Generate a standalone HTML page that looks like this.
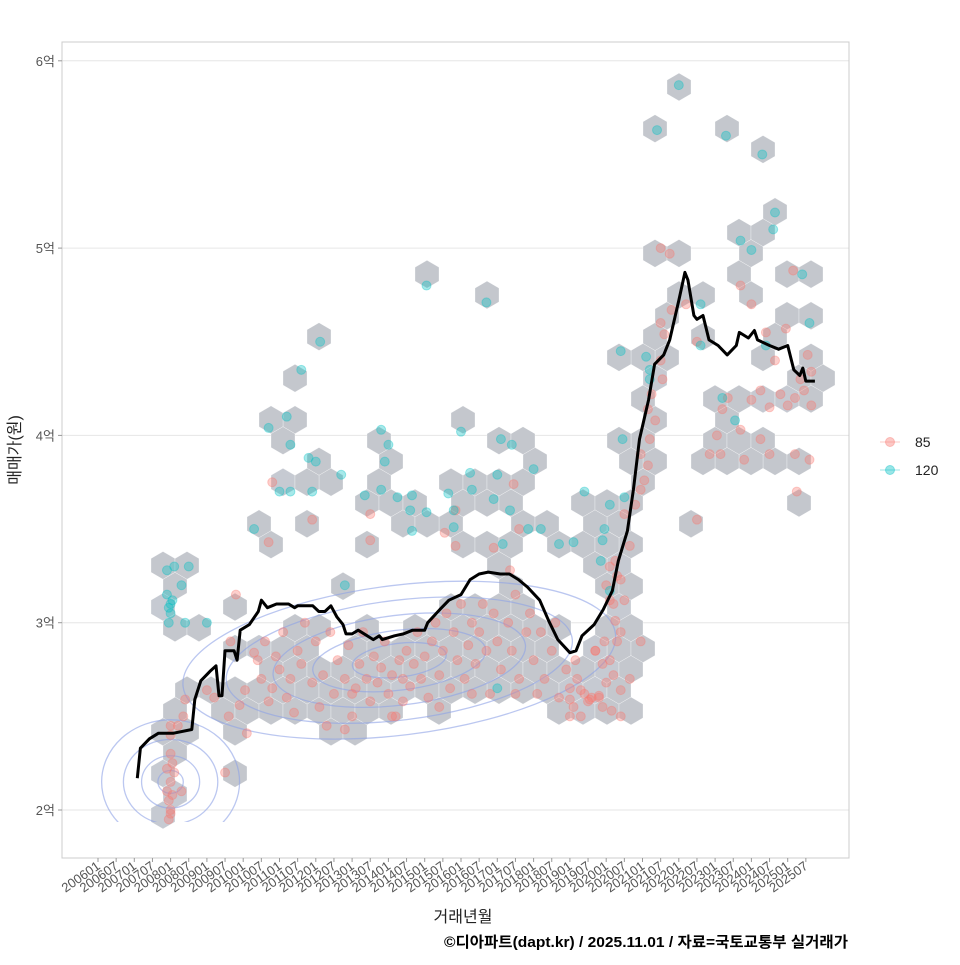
<!DOCTYPE html>
<html><head><meta charset="utf-8">
<style>
body{margin:0;background:#fff;}
svg text{font-family:"Liberation Sans","Noto Sans CJK KR",sans-serif;}
</style></head>
<body>
<svg id="chart" width="960" height="960" viewBox="0 0 960 960" xmlns="http://www.w3.org/2000/svg">
<rect x="0" y="0" width="960" height="960" fill="#fff"/>
<g id="grid"></g>
<g id="hexes"></g>
<g id="contours"></g>
<g id="pts"></g>
<g id="line"></g>
<rect x="62" y="42" width="787" height="816" fill="none" stroke="#cccccc" stroke-width="1"/>
<g id="yaxis"></g>
<g id="xaxis"></g>
<text x="463" y="922" font-size="16" text-anchor="middle" fill="#222">거래년월</text>
<text transform="translate(20,450) rotate(-90)" font-size="16" text-anchor="middle" fill="#222">매매가(원)</text>
<text x="848" y="947" font-size="15" font-weight="bold" text-anchor="end" fill="#000" textLength="404" lengthAdjust="spacingAndGlyphs">©디아파트(dapt.kr) / 2025.11.01 / 자료=국토교통부 실거래가</text>
<g>
<g>
<line x1="880" y1="442" x2="900" y2="442" stroke="#F8766D" stroke-opacity="0.4"/>
<circle cx="890" cy="442" r="4.5" fill="#F8766D" fill-opacity="0.4" stroke="#F8766D" stroke-opacity="0.4"/>
<text x="915" y="447" font-size="14" fill="#222">85</text></g>
<g>
<line x1="880" y1="470" x2="900" y2="470" stroke="#00BFC4" stroke-opacity="0.4"/>
<circle cx="890" cy="470" r="4.5" fill="#00BFC4" fill-opacity="0.4" stroke="#00BFC4" stroke-opacity="0.4"/>
<text x="915" y="475" font-size="14" fill="#222">120</text></g>
</g>
</svg>
<script>
const yTicks = [2,3,4,5,6];
const xTickYears = [2006,2007,2008,2009,2010,2011,2012,2013,2014,2015,2016,2017,2018,2019,2020,2021,2022,2023,2024,2025];
const lineDates = ["2007-02","2007-03","2007-06","2007-09","2008-02","2008-08","2008-09","2008-11","2009-02","2009-04","2009-05","2009-06","2009-07","2009-10","2009-11","2009-12","2010-03","2010-06","2010-07","2010-09","2010-12","2011-04","2011-06","2011-07","2011-12","2012-02","2012-04","2012-06","2012-08","2012-10","2012-11","2013-01","2013-03","2013-08","2013-10","2013-11","2014-03","2014-06","2014-09","2015-01","2015-02","2015-06","2015-09","2016-01","2016-04","2016-07","2016-10","2017-02","2017-05","2017-08","2017-11","2018-03","2018-06","2018-09","2019-01","2019-03","2019-05","2019-09","2019-12","2020-03","2020-05","2020-08","2020-10","2020-12","2021-03","2021-05","2021-08","2021-10","2022-01","2022-03","2022-04","2022-06","2022-07","2022-09","2022-11","2023-02","2023-05","2023-08","2023-09","2023-12","2024-02","2024-03","2024-07","2024-10","2025-01","2025-03","2025-05","2025-06","2025-07","2025-10"];
const lineValues = [2.17,2.33,2.38,2.41,2.41,2.43,2.59,2.69,2.74,2.77,2.61,2.61,2.85,2.85,2.80,2.96,2.99,3.06,3.12,3.08,3.10,3.10,3.08,3.09,3.09,3.06,3.06,3.09,3.03,2.99,2.94,2.94,2.96,2.91,2.93,2.91,2.93,2.94,2.96,2.96,3.00,3.07,3.12,3.15,3.23,3.26,3.27,3.26,3.26,3.23,3.19,3.12,3.01,2.91,2.84,2.85,2.93,2.99,3.07,3.17,3.33,3.49,3.71,3.98,4.19,4.38,4.43,4.51,4.72,4.87,4.83,4.64,4.62,4.64,4.51,4.48,4.43,4.48,4.55,4.52,4.56,4.51,4.48,4.46,4.48,4.35,4.32,4.36,4.29,4.29];
const pts85 = "2007.9:2.1 2007.95:2.05 2008.0:2.0 2008.0:2.15 2008.05:2.25 2008.0:2.3 2007.95:1.95 2008.1:2.2 2008.3:2.1 2008.0:2.4 2008.2:2.45 2007.9:2.22 2008.05:2.08 2008.0:1.98 2009.5:2.2 2009.0:2.64 2008.4:2.59 2009.2:2.6 2009.6:2.5 2009.9:2.56 2010.1:2.41 2009.65:2.9 2010.3:2.84 2010.05:2.64 2008.35:2.5 2008.0:2.45 2010.4:2.8 2010.5:2.7 2010.6:2.9 2010.8:2.65 2010.9:2.82 2011.0:2.75 2011.1:2.95 2011.2:2.6 2011.3:2.7 2011.5:2.85 2011.6:2.78 2011.7:3.0 2011.9:2.68 2012.0:2.9 2012.1:2.55 2012.2:2.72 2012.4:2.95 2012.5:2.62 2012.6:2.8 2012.8:2.7 2012.9:2.88 2013.0:2.5 2013.1:2.65 2013.2:2.78 2013.3:2.95 2013.4:2.7 2013.5:2.58 2013.6:2.82 2013.7:2.68 2013.8:2.76 2013.9:2.9 2014.0:2.62 2014.1:2.72 2014.2:2.5 2014.3:2.8 2014.4:2.7 2014.5:2.85 2014.6:2.66 2014.7:2.78 2014.8:2.95 2014.9:2.7 2015.0:2.82 2015.1:2.6 2015.2:2.9 2015.3:3.0 2015.4:2.72 2015.5:2.85 2015.6:3.05 2015.7:2.65 2015.8:2.95 2015.9:2.8 2016.0:3.1 2016.1:2.7 2016.2:2.88 2016.3:3.0 2016.4:2.78 2016.5:2.95 2016.6:3.1 2016.7:2.85 2016.8:2.62 2016.9:3.05 2017.0:2.9 2017.1:2.75 2017.3:3.0 2017.4:2.85 2017.5:3.15 2017.6:2.7 2017.8:2.95 2017.9:3.05 2018.0:2.8 2018.2:2.95 2018.3:2.7 2018.5:2.85 2018.6:3.0 2018.7:2.6 2018.9:2.75 2019.0:2.65 2019.1:2.55 2019.2:2.7 2019.3:2.5 2019.4:2.62 2019.5:2.58 2019.6:2.6 2019.8:2.6 2019.9:2.55 2020.0:2.68 2020.1:2.8 2020.2:2.72 2020.3:2.9 2020.4:2.95 2019.7:2.85 2019.9:2.78 2020.2:3.1 2020.3:3.25 2020.1:3.3 2020.0:3.2 2010.7:2.58 2012.3:2.45 2012.8:2.43 2014.1:2.5 2015.4:2.55 2016.3:2.62 2017.5:2.62 2013.0:2.62 2011.4:2.52 2014.4:2.58 2018.1:2.62 2019.0:2.5 2010.8:3.75 2011.9:3.55 2013.5:3.44 2013.5:3.58 2015.55:3.48 2015.85:3.6 2015.85:3.41 2016.9:3.4 2017.45:3.74 2017.6:3.5 2017.35:3.28 2010.7:3.43 2009.8:3.15 2019.95:2.9 2020.25:3.01 2020.1:3.12 2020.4:3.23 2020.5:3.12 2020.25:3.33 2020.65:3.41 2020.5:3.58 2020.8:3.63 2020.95:3.71 2021.05:3.76 2021.15:3.84 2020.95:3.9 2021.2:3.98 2021.35:4.08 2021.15:4.14 2021.25:4.22 2021.55:4.3 2021.5:4.4 2021.6:4.54 2021.5:4.6 2021.8:4.67 2022.2:4.7 2021.5:5.0 2021.75:4.97 2019.0:2.59 2019.3:2.64 2019.55:2.59 2019.8:2.61 2019.15:2.8 2019.7:2.85 2020.4:2.64 2020.65:2.7 2020.95:2.9 2020.15:2.53 2020.4:2.5 2023.05:4.0 2023.2:4.14 2023.35:4.2 2023.7:4.03 2024.0:4.19 2024.25:4.24 2024.5:4.15 2024.8:4.22 2025.0:4.16 2025.2:4.2 2025.45:4.24 2025.65:4.16 2025.35:4.3 2024.25:3.98 2024.5:3.9 2023.8:3.87 2023.15:3.9 2025.2:3.9 2022.85:3.9 2025.6:3.87 2022.5:3.55 2025.25:3.7 2024.65:4.4 2023.7:4.8 2024.95:4.57 2025.15:4.88 2025.55:4.43 2025.65:4.34 2022.5:4.5 2024.0:4.7 2024.4:4.55";
const pts120 = "2007.95:3.0 2008.0:3.05 2008.0:3.1 2007.9:3.15 2008.1:3.3 2008.5:3.3 2008.3:3.2 2007.9:3.28 2009.0:3.0 2008.4:3.0 2007.95:3.08 2008.05:3.12 2010.3:3.5 2012.12:4.5 2011.6:4.35 2011.2:4.1 2010.7:4.04 2011.3:3.95 2011.8:3.88 2012.0:3.86 2012.7:3.79 2011.0:3.7 2011.3:3.7 2011.9:3.7 2013.35:3.68 2013.8:4.03 2013.9:3.86 2013.8:3.71 2014.25:3.67 2014.6:3.6 2014.65:3.49 2015.05:3.59 2014.65:3.68 2015.8:3.51 2015.65:3.69 2015.8:3.6 2016.25:3.8 2016.3:3.71 2017.0:3.79 2016.9:3.66 2017.15:3.42 2017.35:3.6 2017.85:3.5 2018.2:3.5 2018.0:3.82 2018.7:3.42 2019.1:3.43 2019.4:3.7 2019.9:3.44 2016.0:4.02 2017.1:3.98 2017.4:3.95 2015.05:4.8 2016.7:4.71 2012.8:3.2 2014.0:3.95 2017.0:2.65 2021.2:4.35 2021.1:4.42 2020.4:4.45 2020.45:3.98 2020.1:3.63 2019.95:3.5 2020.5:3.67 2019.85:3.33 2020.1:3.17 2022.0:5.87 2021.4:5.63 2023.3:5.6 2024.3:5.5 2024.65:5.19 2023.7:5.04 2024.0:4.99 2024.6:5.1 2022.6:4.7 2025.4:4.86 2025.6:4.6 2023.55:4.08 2023.2:4.2 2024.4:4.48 2021.2:4.3 2022.6:4.48";
const contourRx = [1.3,2.4,3.5,4.8,6.0];
const contourRy = [0.09,0.16,0.24,0.32,0.40];
const contourRxLeft = [0.35,0.8,1.3,1.9];

const NS="http://www.w3.org/2000/svg";
const X0=98, PX_PER_YEAR=36.3, Y2=810, PX_PER_EOK=187.3;
function xs(yr){return X0+(yr-2006)*PX_PER_YEAR;}
function ys(v){return Y2-(v-2)*PX_PER_EOK;}
function dateToYear(d){const p=d.split("-");return +p[0]+(+p[1]-1)/12;}
function mk(tag,attrs,parent){const e=document.createElementNS(NS,tag);for(const k in attrs)e.setAttribute(k,attrs[k]);parent.appendChild(e);return e;}
function parsePts(s){return s.trim().split(/\s+/).map(t=>{const a=t.split(":");return [+a[0],+a[1]];});}

const grid=document.getElementById('grid'), yax=document.getElementById('yaxis');
yTicks.forEach(v=>{
  const g=mk('line',{x1:62,x2:849,y1:ys(v),y2:ys(v),stroke:'#e6e6e6','stroke-width':1},grid);
  
  
  const tk=mk('line',{x1:58,x2:62,y1:ys(v),y2:ys(v),stroke:'#999'},yax);
  
  
  const t=mk('text',{x:55,y:ys(v)+5,'font-size':13,'text-anchor':'end',fill:'#555'},yax);
  t.textContent=v+'억';
  
  
});
const xax=document.getElementById('xaxis');
xTickYears.forEach(y=>{['01','07'].forEach(m=>{
  const yr=y+(m==='07'?0.5:0), x=xs(yr);
  const tk=mk('line',{x1:x,x2:x,y1:858,y2:862,stroke:'#999'},xax);
  
  
  const t=mk('text',{x:x+3,y:868,'font-size':13,'text-anchor':'end',fill:'#555',transform:`rotate(-35 ${x+3} 868)`},xax);
  t.textContent=y+m;
  
  
});});

const p85=parsePts(pts85), p120=parsePts(pts120);
const HX=679, HY=87, HW=24, HR=13.86, HH=20.8;
const cells={};
p85.concat(p120).forEach(p=>{
  const px=xs(p[0]), py=ys(p[1]);
  const r0=Math.floor((py-HY)/HH);
  let best=null,bd=1e9;
  for(let r=r0-1;r<=r0+2;r++){
    const off=(Math.abs(r)%2)?HW/2:0;
    const c0=Math.round((px-HX-off)/HW);
    for(let c=c0-1;c<=c0+1;c++){
      const cx=HX+off+c*HW, cy=HY+r*HH, d=(cx-px)**2+(cy-py)**2;
      if(d<bd){bd=d;best=[cx,cy,r+','+c];}
    }
  }
  if(!cells[best[2]])cells[best[2]]={x:best[0],y:best[1],n:0};
  cells[best[2]].n++;
});
const hexg=document.getElementById('hexes');
Object.values(cells).forEach(c=>{
  let pts=[];for(let i=0;i<6;i++){const a=Math.PI/3*i+Math.PI/6;pts.push((c.x+HR*Math.cos(a)).toFixed(1)+','+(c.y+HR*Math.sin(a)).toFixed(1));}
  const col=c.n>=6?'#c9d0dc':(c.n>=3?'#c6cad2':'#c4c7cd');
  const h=mk('polygon',{points:pts.join(' '),fill:col,stroke:'#fff','stroke-width':0.3},hexg);
  
  
});
const cg=document.getElementById('contours');
const defs=mk('defs',{},document.getElementById('chart'));
const cp=mk('clipPath',{id:'panelclip'},defs);mk('rect',{x:62,y:42,width:787,height:780},cp);
function ell(cx,cy,rxYr,ryV,rot){
  const e=mk('ellipse',{cx:xs(cx),cy:ys(cy),rx:rxYr*PX_PER_YEAR,ry:ryV*PX_PER_EOK,fill:'none',stroke:'#8ea2e6','stroke-opacity':0.6,'stroke-width':1.3,transform:`rotate(${rot} ${xs(cx)} ${ys(cy)})`,'clip-path':'url(#panelclip)'},cg);
  
  
}
contourRx.forEach((k,i)=>ell(2014.3,2.8,k,contourRy[i],-7));
contourRxLeft.forEach(k=>ell(2008.0,2.15,k,k*PX_PER_YEAR/PX_PER_EOK*0.9,0));
const pg=document.getElementById('pts');
[[p85,'#F8766D','point-85'],[p120,'#00BFC4','point-120']].forEach(([arr,col,nm])=>{
  arr.forEach(p=>{
    const c=mk('circle',{cx:xs(p[0]),cy:ys(p[1]),r:4.5,fill:col,'fill-opacity':0.35,stroke:col,'stroke-opacity':0.35},pg);
    
    
  });
});
const d=lineDates.map((t,i)=>(i?'L':'M')+xs(dateToYear(t)).toFixed(1)+','+ys(lineValues[i]).toFixed(1)).join(' ');
const ln=mk('path',{d:d,fill:'none',stroke:'#000','stroke-width':3,'stroke-linejoin':'round'},document.getElementById('line'));


</script>
</body></html>
